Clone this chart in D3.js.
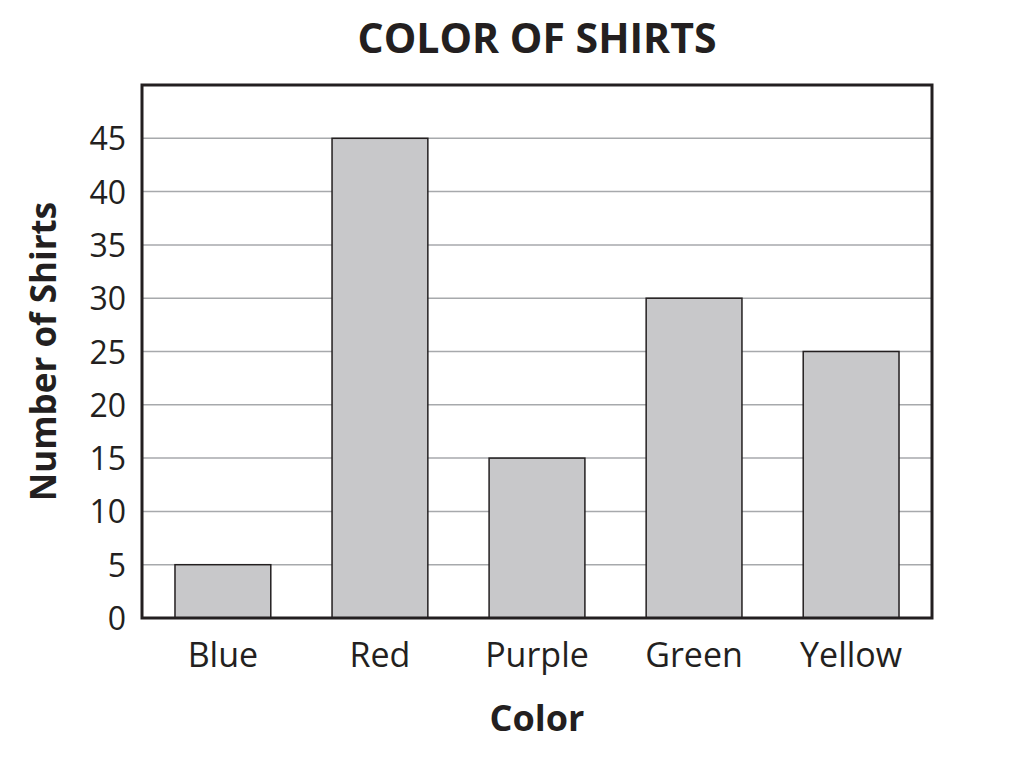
<!DOCTYPE html>
<html lang="en">
    <head>
        <meta charset="utf-8">
        <title>Color of Shirts</title>
        <script type="text/javascript" src="https://cdn.jsdelivr.net/npm/d3@7"></script>
        <style type="text/css">
            body { margin: 0; background: #fff; }
            text { font-family: "Open Sans", sans-serif; fill: #231f20; }
        </style>
    </head>
    <body>
        <script type="text/javascript">

          //Data
          var colors = ["Blue", "Red", "Purple", "Green", "Yellow"];
          var shirts = [5, 45, 15, 30, 25];
          var yTicks = [0, 5, 10, 15, 20, 25, 30, 35, 40, 45];

          //Width and height
          var w = 1009;
          var h = 762;
          var plotLeft = 142, plotRight = 932, plotTop = 85, plotBottom = 618;

          var xScale = d3.scaleBand()
                         .domain(colors)
                         .range([plotLeft, plotRight])
                         .paddingInner(0.39)
                         .paddingOuter(0.21);

          var yScale = d3.scaleLinear()
                         .domain([0, 50])
                         .range([plotBottom, plotTop]);

          var svg = d3.select("body")
                      .append("svg")
                      .attr("width", w)
                      .attr("height", h);

          //Gridlines
          svg.selectAll("line.grid")
             .data(yTicks.filter(function(d) { return d > 0; }))
             .enter()
             .append("line")
             .attr("class", "grid")
             .attr("x1", plotLeft)
             .attr("x2", plotRight)
             .attr("y1", function(d) { return yScale(d); })
             .attr("y2", function(d) { return yScale(d); })
             .attr("stroke", "#a7a9ac")
             .attr("stroke-width", 1.5);

          //Bars
          svg.selectAll("rect.bar")
             .data(shirts)
             .enter()
             .append("rect")
             .attr("class", "bar")
             .attr("x", function(d, i) { return xScale(colors[i]); })
             .attr("y", function(d) { return yScale(d); })
             .attr("width", xScale.bandwidth())
             .attr("height", function(d) { return yScale(0) - yScale(d); })
             .attr("fill", "#c8c8ca")
             .attr("stroke", "#231f20")
             .attr("stroke-width", 1.5);

          //Frame
          svg.append("rect")
             .attr("x", plotLeft)
             .attr("y", plotTop)
             .attr("width", plotRight - plotLeft)
             .attr("height", plotBottom - plotTop)
             .attr("fill", "none")
             .attr("stroke", "#231f20")
             .attr("stroke-width", 3);

          //Y axis
          var yAxis = d3.axisLeft(yScale)
                        .tickValues(yTicks)
                        .tickSize(0)
                        .tickPadding(16);
          var gy = svg.append("g")
                      .attr("transform", "translate(" + plotLeft + ",0)")
                      .call(yAxis);
          gy.select(".domain").remove();
          gy.selectAll("text")
            .attr("font-size", "32px")
            .attr("dy", "0.36em")
            .style("font-family", "'Open Sans', sans-serif")
            .attr("fill", "#231f20");

          //X axis
          var xAxis = d3.axisBottom(xScale)
                        .tickSize(0)
                        .tickPadding(0);
          var gx = svg.append("g")
                      .attr("transform", "translate(0," + plotBottom + ")")
                      .call(xAxis);
          gx.select(".domain").remove();
          gx.selectAll("text")
            .attr("y", 49)
            .attr("dy", 0)
            .attr("font-size", "34px")
            .style("font-family", "'Open Sans', sans-serif")
            .attr("fill", "#231f20");

          //Title
          svg.append("text")
             .attr("x", 537)
             .attr("y", 53)
             .attr("text-anchor", "middle")
             .attr("font-size", "41px")
             .attr("font-weight", "bold")
             .text("COLOR OF SHIRTS");

          //Axis titles
          svg.append("text")
             .attr("x", 537)
             .attr("y", 731)
             .attr("text-anchor", "middle")
             .attr("font-size", "36px")
             .attr("font-weight", "bold")
             .text("Color");

          svg.append("text")
             .attr("transform", "translate(56," + ((plotTop + plotBottom) / 2) + ") rotate(-90)")
             .attr("text-anchor", "middle")
             .attr("font-size", "35px")
             .attr("font-weight", "bold")
             .text("Number of Shirts");

        </script>
    </body>
</html>
